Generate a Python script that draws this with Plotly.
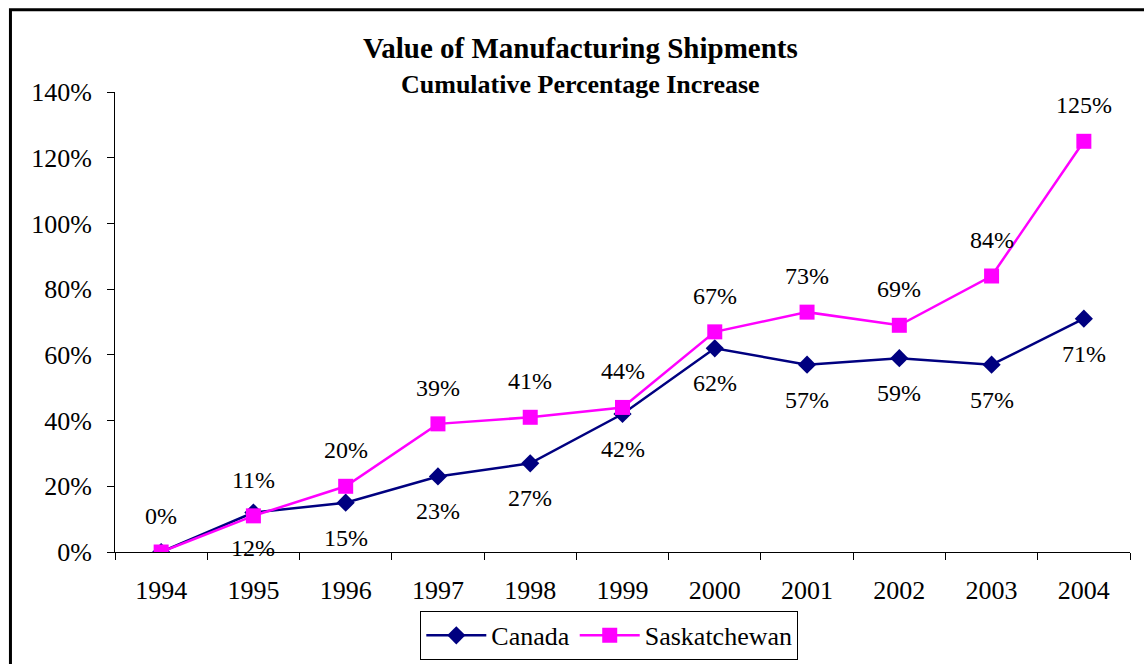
import plotly.graph_objects as go

years = ["1994", "1995", "1996", "1997", "1998", "1999", "2000", "2001", "2002", "2003", "2004"]
canada = [0.00, 0.12, 0.15, 0.23, 0.27, 0.42, 0.62, 0.57, 0.59, 0.57, 0.71]
saskatchewan = [0.00, 0.11, 0.20, 0.39, 0.41, 0.44, 0.67, 0.73, 0.69, 0.84, 1.25]
y_ticks = [0.0, 0.2, 0.4, 0.6, 0.8, 1.0, 1.2, 1.4]

FONT = "Times New Roman, Liberation Serif, serif"
NAVY = "#000080"
MAGENTA = "#FF00FF"

fig = go.Figure()
fig.add_trace(go.Scatter(
    x=years, y=canada, name="Canada", mode="lines+markers",
    line=dict(color=NAVY, width=2.5),
    marker=dict(symbol="diamond", size=14, color=NAVY),
))
fig.add_trace(go.Scatter(
    x=years, y=saskatchewan, name="Saskatchewan", mode="lines+markers",
    line=dict(color=MAGENTA, width=2.5),
    marker=dict(symbol="square", size=15, color=MAGENTA),
))

# value labels: Saskatchewan above its points, Canada below (first Canada label hidden under the 0% one)
annotations = []
for i, v in enumerate(saskatchewan):
    annotations.append(dict(x=i, y=v, xref="x", yref="y", text=f"{round(v*100)}%",
                            showarrow=False, yshift=36, font=dict(family=FONT, size=24, color="black")))
for i, v in enumerate(canada):
    if i == 0:
        continue
    annotations.append(dict(x=i, y=v, xref="x", yref="y", text=f"{round(v*100)}%",
                            showarrow=False, yshift=-35, font=dict(family=FONT, size=24, color="black")))

# two-line heading
annotations.append(dict(x=0.459, y=1.096, xref="paper", yref="paper", showarrow=False,
                        text="<b>Value of Manufacturing Shipments</b>",
                        font=dict(family=FONT, size=29, color="black"), xanchor="center", yanchor="middle"))
annotations.append(dict(x=0.459, y=1.017, xref="paper", yref="paper", showarrow=False,
                        text="<b>Cumulative Percentage Increase</b>",
                        font=dict(family=FONT, size=26, color="black"), xanchor="center", yanchor="middle"))

fig.update_layout(
    width=1144, height=664,
    margin=dict(l=115, r=14, t=92, b=112, autoexpand=False),
    paper_bgcolor="white", plot_bgcolor="white",
    showlegend=True,
    legend=dict(orientation="h", x=0.487, y=-0.128, xanchor="center", yanchor="top",
                bordercolor="black", borderwidth=1, bgcolor="white",
                font=dict(family=FONT, size=26, color="black"), itemwidth=60),
    annotations=annotations,
    hovermode=False,
    shapes=[dict(type="rect", xref="paper", yref="paper",
                 x0=-0.103, x1=1.03, y0=-0.3, y1=1.179,
                 line=dict(color="black", width=3), layer="below")],
)
fig.update_xaxes(
    type="category", range=[-0.5, 10.5], tickson="boundaries",
    ticks="outside", ticklen=7, tickcolor="black", tickwidth=1,
    showline=True, linecolor="black", linewidth=1, showgrid=False, zeroline=False,
    tickfont=dict(family=FONT, size=26, color="black"), ticklabelstandoff=15,
)
fig.update_yaxes(
    range=[0, 1.4], tickvals=y_ticks, tickformat=".0%",
    ticks="outside", ticklen=7, tickcolor="black", tickwidth=1,
    showline=True, linecolor="black", linewidth=1, showgrid=False, zeroline=False,
    tickfont=dict(family=FONT, size=26, color="black"), ticklabelstandoff=10,
)

fig.write_html("out.html")
